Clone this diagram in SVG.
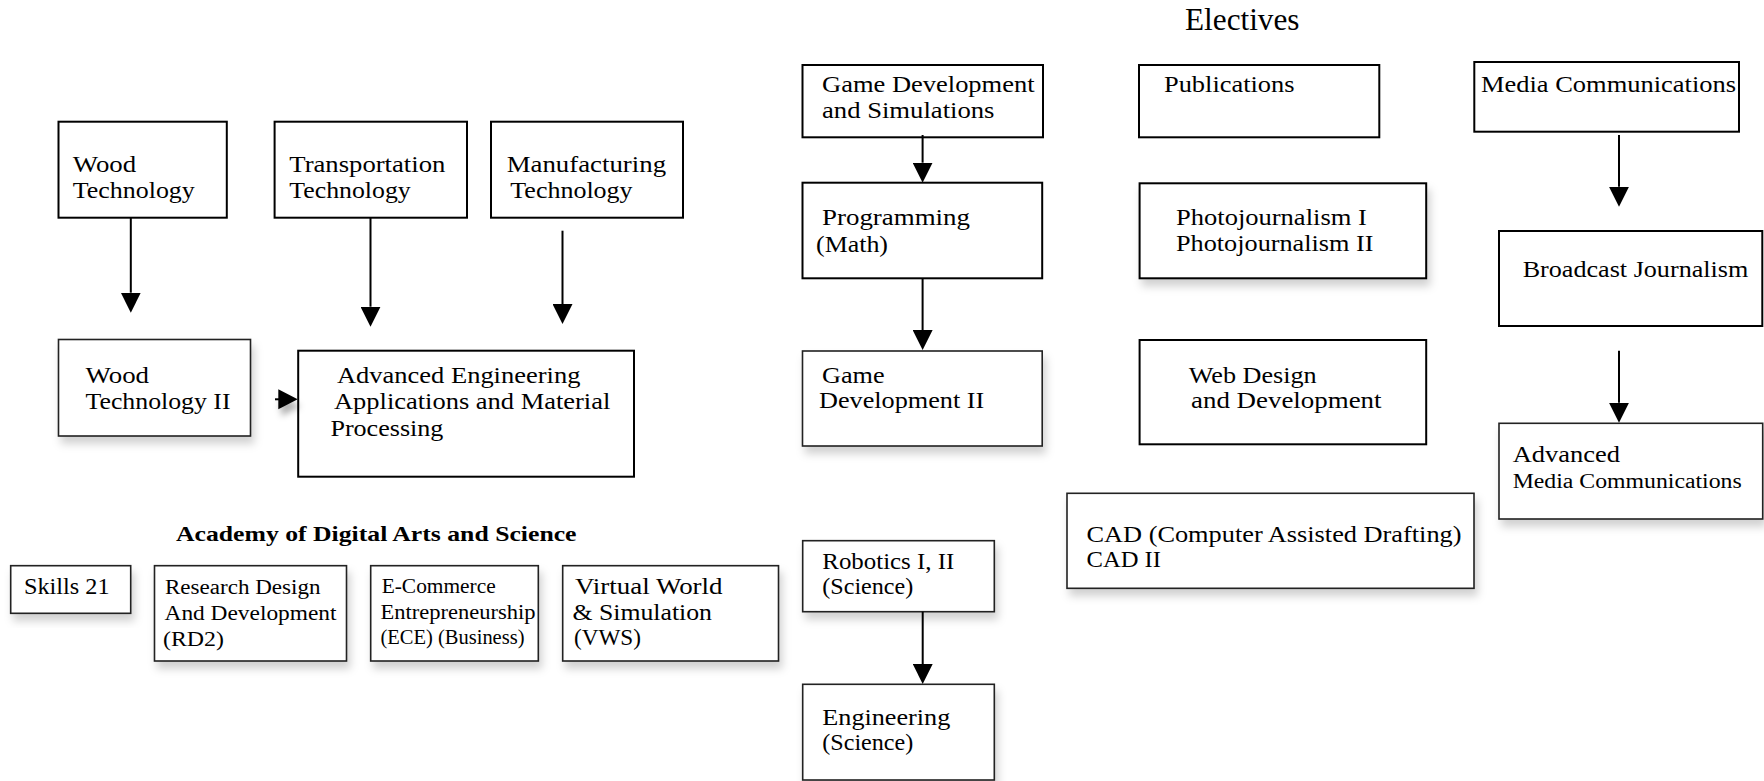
<svg xmlns="http://www.w3.org/2000/svg" width="1764" height="781" viewBox="0 0 1764 781">
<defs>
<style>
.bg{fill:#fff}
.box{fill:#fff;stroke:#000;stroke-width:2}
.bs{fill:#fff;stroke:#222;stroke-width:1.6}
.t{font-family:"Liberation Serif","Times New Roman",serif;font-size:23.5px;fill:#000}
.s{font-family:"Liberation Serif","Times New Roman",serif;font-size:20.5px;fill:#000}
.h{font-family:"Liberation Serif","Times New Roman",serif;font-size:31px;fill:#000}
.b{font-family:"Liberation Serif","Times New Roman",serif;font-size:22px;font-weight:bold;fill:#000}
.c{stroke:#000;stroke-width:2;fill:none;marker-end:url(#ah)}
</style>
<marker id="ah" viewBox="0 0 10 10" refX="0" refY="5" markerWidth="20" markerHeight="20" markerUnits="userSpaceOnUse" orient="auto">
<path d="M0,0 L10,5 L0,10 Z" fill="#000"/>
</marker>
<filter id="sh" x="-10%" y="-20%" width="125%" height="150%">
<feDropShadow dx="3" dy="7" stdDeviation="4" flood-color="#000" flood-opacity="0.18"/>
</filter>
<filter id="sh2" filterUnits="userSpaceOnUse" x="262" y="380" width="60" height="50">
<feDropShadow dx="3" dy="7" stdDeviation="3" flood-color="#000" flood-opacity="0.3"/>
</filter>
</defs>
<rect class="bg" x="0" y="0" width="1764" height="781"/>

<text class="h" x="1185" y="30" textLength="114.5" lengthAdjust="spacingAndGlyphs">Electives</text>
<text class="b" x="176" y="541" textLength="400.5" lengthAdjust="spacingAndGlyphs">Academy of Digital Arts and Science</text>

<g id="wood-tech">
<rect class="box" x="58.5" y="121.7" width="168.3" height="96"/>
<text class="t" x="72.8" y="171.7" textLength="63.4" lengthAdjust="spacingAndGlyphs">Wood</text>
<text class="t" x="72.8" y="198.3" textLength="122" lengthAdjust="spacingAndGlyphs">Technology</text>
</g>
<g id="transportation-tech">
<rect class="box" x="274.6" y="121.7" width="192.4" height="96"/>
<text class="t" x="289.3" y="171.7" textLength="156" lengthAdjust="spacingAndGlyphs">Transportation</text>
<text class="t" x="289.3" y="198.3" textLength="121.4" lengthAdjust="spacingAndGlyphs">Technology</text>
</g>
<g id="manufacturing-tech">
<rect class="box" x="491" y="121.7" width="192" height="96"/>
<text class="t" x="506.7" y="171.7" textLength="159.4" lengthAdjust="spacingAndGlyphs">Manufacturing</text>
<text class="t" x="510.3" y="198.3" textLength="122.3" lengthAdjust="spacingAndGlyphs">Technology</text>
</g>
<g id="wood-tech-2">
<rect class="bs" x="58.5" y="339.5" width="192" height="96.5" filter="url(#sh)"/>
<text class="t" x="85.5" y="383" textLength="63.5" lengthAdjust="spacingAndGlyphs">Wood</text>
<text class="t" x="85.5" y="409" textLength="145" lengthAdjust="spacingAndGlyphs">Technology II</text>
</g>
<g id="advanced-engineering">
<rect class="box" x="298.2" y="350.7" width="335.8" height="126"/>
<text class="t" x="337" y="383" textLength="243.4" lengthAdjust="spacingAndGlyphs">Advanced Engineering</text>
<text class="t" x="334" y="409" textLength="276.3" lengthAdjust="spacingAndGlyphs">Applications and Material</text>
<text class="t" x="330.4" y="435.5" textLength="113" lengthAdjust="spacingAndGlyphs">Processing</text>
</g>

<g id="skills-21">
<rect class="bs" x="10.7" y="565.7" width="120" height="47.6" filter="url(#sh)"/>
<text class="t" x="24" y="594" textLength="85.5" lengthAdjust="spacingAndGlyphs">Skills 21</text>
</g>
<g id="research-design">
<rect class="bs" x="154.5" y="565.7" width="192" height="95.3" filter="url(#sh)"/>
<text class="s" x="165" y="593.5" textLength="155.5" lengthAdjust="spacingAndGlyphs">Research Design</text>
<text class="s" x="164.5" y="620" textLength="172" lengthAdjust="spacingAndGlyphs">And Development</text>
<text class="s" x="163" y="645.5" textLength="61" lengthAdjust="spacingAndGlyphs">(RD2)</text>
</g>
<g id="e-commerce">
<rect class="bs" x="370.7" y="565.7" width="167.6" height="95.3" filter="url(#sh)"/>
<text class="s" x="381.7" y="593.3" textLength="114" lengthAdjust="spacingAndGlyphs">E-Commerce</text>
<text class="s" x="380.5" y="619" textLength="155" lengthAdjust="spacingAndGlyphs">Entrepreneurship</text>
<text class="s" x="380.5" y="643.5" textLength="144" lengthAdjust="spacingAndGlyphs">(ECE) (Business)</text>
</g>
<g id="virtual-world">
<rect class="bs" x="562.7" y="565.7" width="215.8" height="95.3" filter="url(#sh)"/>
<text class="t" x="575" y="594" textLength="147.5" lengthAdjust="spacingAndGlyphs">Virtual World</text>
<text class="t" x="572.5" y="619.5" textLength="139.5" lengthAdjust="spacingAndGlyphs">&amp; Simulation</text>
<text class="t" x="574" y="644.5" textLength="67" lengthAdjust="spacingAndGlyphs">(VWS)</text>
</g>

<g id="game-dev">
<rect class="box" x="802.5" y="65" width="240.5" height="72.3"/>
<text class="t" x="822" y="91.7" textLength="212.6" lengthAdjust="spacingAndGlyphs">Game Development</text>
<text class="t" x="822" y="118.3" textLength="172.5" lengthAdjust="spacingAndGlyphs">and Simulations</text>
</g>
<g id="programming">
<rect class="box" x="802.5" y="182.7" width="239.7" height="95.6"/>
<text class="t" x="822" y="225" textLength="148" lengthAdjust="spacingAndGlyphs">Programming</text>
<text class="t" x="816" y="251.7" textLength="72" lengthAdjust="spacingAndGlyphs">(Math)</text>
</g>
<g id="game-dev-2">
<rect class="bs" x="802.5" y="351" width="239.7" height="95" filter="url(#sh)"/>
<text class="t" x="822" y="382.7" textLength="62.6" lengthAdjust="spacingAndGlyphs">Game</text>
<text class="t" x="819" y="408.3" textLength="165.2" lengthAdjust="spacingAndGlyphs">Development II</text>
</g>
<g id="robotics">
<rect class="bs" x="802.7" y="540.7" width="191.6" height="71" filter="url(#sh)"/>
<text class="t" x="822.3" y="569" textLength="132" lengthAdjust="spacingAndGlyphs">Robotics I, II</text>
<text class="t" x="822.3" y="594" textLength="91" lengthAdjust="spacingAndGlyphs">(Science)</text>
</g>
<g id="engineering">
<rect class="bs" x="802.7" y="684.3" width="191.6" height="95.7" filter="url(#sh)"/>
<text class="t" x="822.3" y="725" textLength="128" lengthAdjust="spacingAndGlyphs">Engineering</text>
<text class="t" x="822.3" y="750" textLength="91" lengthAdjust="spacingAndGlyphs">(Science)</text>
</g>

<g id="publications">
<rect class="box" x="1139" y="65" width="240.3" height="72.3"/>
<text class="t" x="1164" y="91.7" textLength="130.5" lengthAdjust="spacingAndGlyphs">Publications</text>
</g>
<g id="photojournalism">
<rect class="box" x="1139.6" y="183.3" width="286.6" height="95" filter="url(#sh)"/>
<text class="t" x="1176" y="225" textLength="190.8" lengthAdjust="spacingAndGlyphs">Photojournalism I</text>
<text class="t" x="1176" y="250.7" textLength="197.5" lengthAdjust="spacingAndGlyphs">Photojournalism II</text>
</g>
<g id="web-design">
<rect class="box" x="1139.6" y="340" width="286.6" height="104.3"/>
<text class="t" x="1188.7" y="382.7" textLength="128" lengthAdjust="spacingAndGlyphs">Web Design</text>
<text class="t" x="1191" y="408.3" textLength="190.5" lengthAdjust="spacingAndGlyphs">and Development</text>
</g>
<g id="cad">
<rect class="bs" x="1067" y="493.3" width="407" height="95" filter="url(#sh)"/>
<text class="t" x="1086.5" y="541.5" textLength="375" lengthAdjust="spacingAndGlyphs">CAD (Computer Assisted Drafting)</text>
<text class="t" x="1086.5" y="566.5" textLength="74.5" lengthAdjust="spacingAndGlyphs">CAD II</text>
</g>

<g id="media-communications">
<rect class="box" x="1474.3" y="62" width="264.7" height="69.7"/>
<text class="t" x="1481" y="91.7" textLength="255" lengthAdjust="spacingAndGlyphs">Media Communications</text>
</g>
<g id="broadcast-journalism">
<rect class="box" x="1499" y="231" width="263.3" height="95"/>
<text class="t" x="1522.7" y="276.7" textLength="225.6" lengthAdjust="spacingAndGlyphs">Broadcast Journalism</text>
</g>
<g id="advanced-media">
<rect class="bs" x="1499" y="423.3" width="263.7" height="95.7" filter="url(#sh)"/>
<text class="t" x="1512.7" y="461.7" textLength="107.3" lengthAdjust="spacingAndGlyphs">Advanced</text>
<text class="s" x="1512.7" y="488.3" textLength="229" lengthAdjust="spacingAndGlyphs">Media Communications</text>
</g>

<g id="connectors">
<line class="c" x1="130.8" y1="217.7" x2="130.8" y2="292.7"/>
<line class="c" x1="370.5" y1="217.7" x2="370.5" y2="306.7"/>
<line class="c" x1="562.5" y1="230.7" x2="562.5" y2="304"/>
<g filter="url(#sh2)">
<line x1="275" y1="399.3" x2="279" y2="399.3" stroke="#000" stroke-width="2"/>
<polygon points="278.3,389.3 297.7,399.3 278.3,409.3" fill="#000"/>
</g>
<line class="c" x1="922.6" y1="135" x2="922.6" y2="162.7"/>
<line class="c" x1="922.6" y1="278.3" x2="922.6" y2="330"/>
<line class="c" x1="922.7" y1="611.7" x2="922.7" y2="664"/>
<line class="c" x1="1619" y1="135" x2="1619" y2="186.7"/>
<line class="c" x1="1619" y1="350.7" x2="1619" y2="402.7"/>
</g>
</svg>
